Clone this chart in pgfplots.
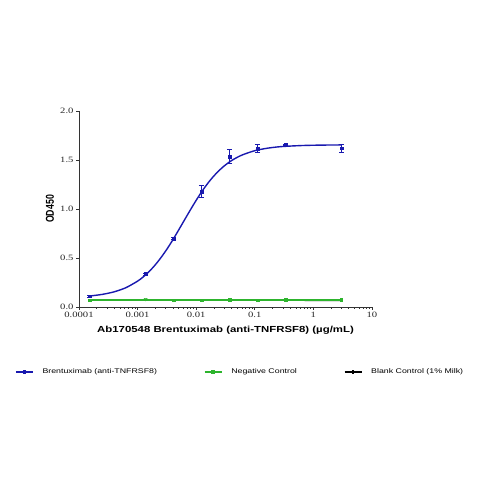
\documentclass[border=0pt]{standalone}
\usepackage{pgfplots}
\pgfplotsset{compat=1.18}
\usepackage{fontspec}
\setmainfont{Liberation Serif}
\setsansfont{Liberation Sans}
\newfontfamily\tickfont{Liberation Serif}[FakeStretch=1.3]
\newfontfamily\labfont{Liberation Sans}[FakeStretch=1.3]
\newfontfamily\ylabfont{Liberation Sans}
\definecolor{cblue}{RGB}{25,25,175}
\definecolor{cgreen}{RGB}{45,180,45}
\begin{document}
\begin{tikzpicture}
\path (0,0) rectangle (479bp,479bp);
\begin{axis}[
  at={(79bp,172bp)}, anchor=south west, scale only axis,
  width=293bp, height=196bp,
  xmode=log, xmin=0.0001, xmax=10, ymin=0, ymax=2,
  axis x line*=bottom, axis y line*=left,
  axis line style={line width=0.8pt, black!80},
  xtick={0.0001,0.001,0.01,0.1,1,10},
  xticklabels={0.0001,0.001,0.01,0.1,1,10},
  minor xtick={0.0002,0.0003,0.0004,0.0005,0.0006,0.0007,0.0008,0.0009,
    0.002,0.003,0.004,0.005,0.006,0.007,0.008,0.009,
    0.02,0.03,0.04,0.05,0.06,0.07,0.08,0.09,
    0.2,0.3,0.4,0.5,0.6,0.7,0.8,0.9,
    2,3,4,5,6,7,8,9},
  ytick={0,0.5,1,1.5,2},
  yticklabels={0.0,0.5,1.0,1.5,2.0},
  tick align=outside, major tick length=3bp, minor tick length=2bp,
  tick style={line width=0.7pt, black!80},
  minor tick style={line width=0.5pt, black!80},
  tick label style={font=\tickfont\fontsize{8.2}{9}\selectfont, text=black!85},
  xticklabel style={yshift=1.5bp},
  yticklabel style={xshift=1bp},
  xlabel={Ab170548 Brentuximab (anti-TNFRSF8) (µg/mL)},
  ylabel={OD450},
  x label style={at={(axis description cs:0.5,-0.117)}, anchor=center,
    font=\labfont\bfseries\fontsize{8.8}{10}\selectfont},
  y label style={at={(axis description cs:-0.099,0.5)}, anchor=center,
    font=\ylabfont\bfseries\fontsize{8.8}{10}\selectfont, yscale=1.3},
  legend columns=3,
  legend style={at={(axis description cs:-0.2184,-0.3316)}, anchor=west,
    draw=none, fill=none, inner sep=0pt,
    font=\labfont\fontsize{6.8}{8}\selectfont,
    /tikz/every odd column/.append style={column sep=7bp},
    /tikz/every even column/.append style={column sep=45bp}},
  legend cell align=left,
  clip=false,
]
% legend images
\addlegendimage{cblue, line width=1.3pt, mark=square*, mark size=1.2pt}
\addlegendentry{Brentuximab (anti-TNFRSF8)}
\addlegendimage{cgreen, line width=1.3pt, mark=square*, mark size=1.2pt}
\addlegendentry{Negative Control}
\addlegendimage{black, line width=1.3pt, mark=+, mark size=2pt}
\addlegendentry{Blank Control (1\% Milk)}

% blank control
\addplot[black, line width=1.2pt, mark=none, forget plot] table {
x y
0.000152 0.068
0.00137 0.069
0.0041 0.068
0.0123 0.068
0.037 0.068
0.111 0.068
0.333 0.068
3 0.066
};
% negative control
\addplot[cgreen, line width=1.6pt, forget plot] table {
x y
0.000152 0.072
3 0.072
};
\addplot[cgreen, only marks, mark=square*, mark size=1.3pt, forget plot] table {
x y
0.000152 0.070
0.0041 0.071
0.0123 0.071
0.037 0.072
0.111 0.071
0.333 0.072
3 0.074
};
\addplot[cgreen, only marks, mark=triangle*, mark options={rotate=180}, mark size=1.8pt, forget plot] table {
x y
0.00137 0.080
};
% brentuximab fitted curve
\addplot[cblue, line width=1.4pt, smooth, forget plot] table {
x y
0.000152 0.111
0.000158 0.113
0.000251 0.129
0.000398 0.155
0.000631 0.197
0.001 0.264
0.001259 0.309
0.001585 0.364
0.001995 0.429
0.002512 0.505
0.003162 0.590
0.003981 0.684
0.005012 0.785
0.00631 0.888
0.007943 0.990
0.01 1.089
0.01259 1.181
0.01585 1.264
0.01995 1.336
0.02512 1.398
0.03162 1.450
0.03981 1.493
0.05012 1.527
0.0631 1.555
0.1 1.595
0.1585 1.619
0.2512 1.634
0.3981 1.642
0.631 1.6475
1 1.6506
1.585 1.6524
3.02 1.6538
};
% brentuximab data
\addplot[draw=cblue, fill=cblue, only marks, mark=square*, mark size=1.4pt, forget plot,
  error bars/.cd, y dir=both, y explicit,
  error bar style={line width=1pt, draw=cblue, color=cblue},
  error mark options={rotate=90, mark size=2.6pt, line width=1pt, draw=cblue, color=cblue}]
  table[x=x, y=y, y error=e] {
x y e
0.000152 0.110 0.008
0.00137 0.336 0.010
0.0041 0.700 0.008
0.0123 1.180 0.060
0.037 1.535 0.070
0.111 1.615 0.040
0.333 1.655 0.008
3 1.620 0.040
};
\end{axis}
\end{tikzpicture}
\end{document}
